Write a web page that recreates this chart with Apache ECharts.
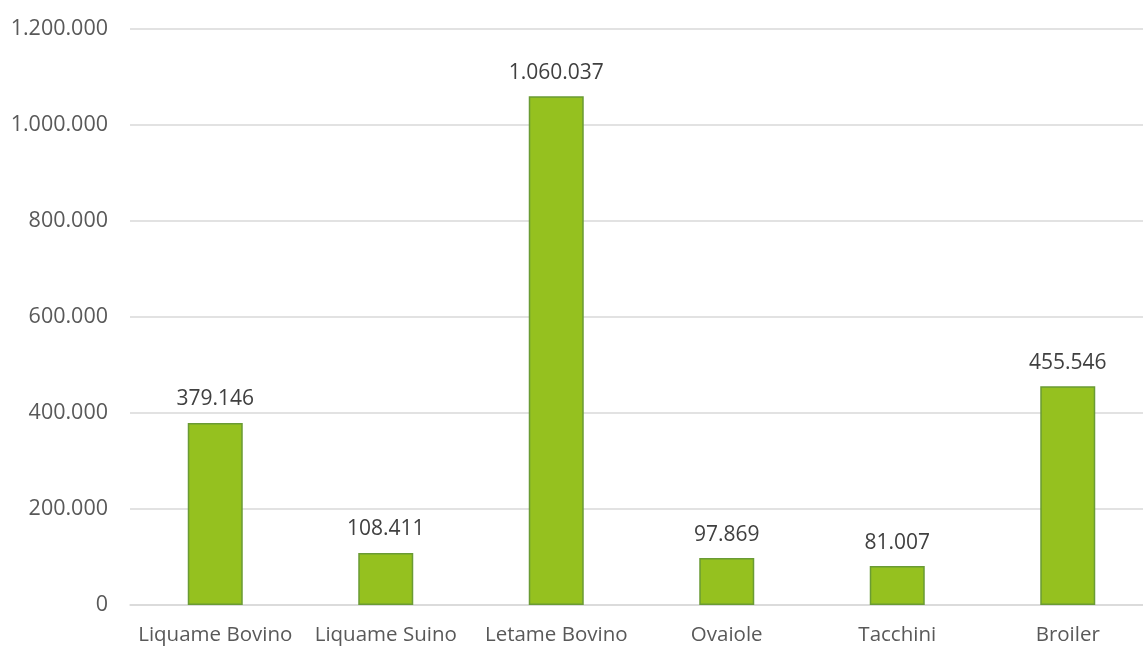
<!DOCTYPE html>
<html>
<head>
<meta charset="utf-8">
<script src="https://cdn.jsdelivr.net/npm/echarts@6/dist/echarts.min.js"></script>
<style>
  html, body { margin: 0; padding: 0; background: #fff; overflow: hidden; }
  #chart { width: 1143px; height: 646px; }
</style>
</head>
<body>
<div id="chart"></div>
<script>
// Categorie di reflui zootecnici e quantità corrispondenti
const categories = ['Liquame Bovino', 'Liquame Suino', 'Letame Bovino', 'Ovaiole', 'Tacchini', 'Broiler'];
const values = [379146, 108411, 1060037, 97869, 81007, 455546];

// Formato numerico italiano con punto come separatore delle migliaia
const fmt = v => Math.round(v).toString().replace(/\B(?=(\d{3})+(?!\d))/g, '.');

const chart = echarts.init(document.getElementById('chart'));
chart.setOption({
  animation: false,
  grid: { left: 130, top: 29, right: -10, bottom: 41, containLabel: false, outerBoundsMode: 'none' },
  xAxis: {
    type: 'category',
    data: categories,
    axisLine: { lineStyle: { color: '#d9d9d9', width: 1.5 } },
    axisTick: { show: false },
    axisLabel: { color: '#595959', fontFamily: 'Open Sans', fontSize: 20.5, margin: 20, interval: 0 }
  },
  yAxis: {
    type: 'value',
    min: 0, max: 1200000, interval: 200000,
    axisLine: { show: false },
    axisTick: { show: false },
    splitLine: { lineStyle: { color: '#d9d9d9', width: 1.5 } },
    axisLabel: { color: '#595959', fontFamily: 'Open Sans', fontSize: 21.5, margin: 22, formatter: fmt }
  },
  series: [{
    type: 'bar',
    data: values,
    barWidth: 55,
    itemStyle: { color: '#95c11f', borderColor: '#6a9b34', borderWidth: 1.5 },
    label: {
      show: true, position: 'top', distance: 13,
      color: '#404040', fontFamily: 'Open Sans', fontSize: 21,
      formatter: p => fmt(p.value)
    }
  }]
});
</script>
</body>
</html>
